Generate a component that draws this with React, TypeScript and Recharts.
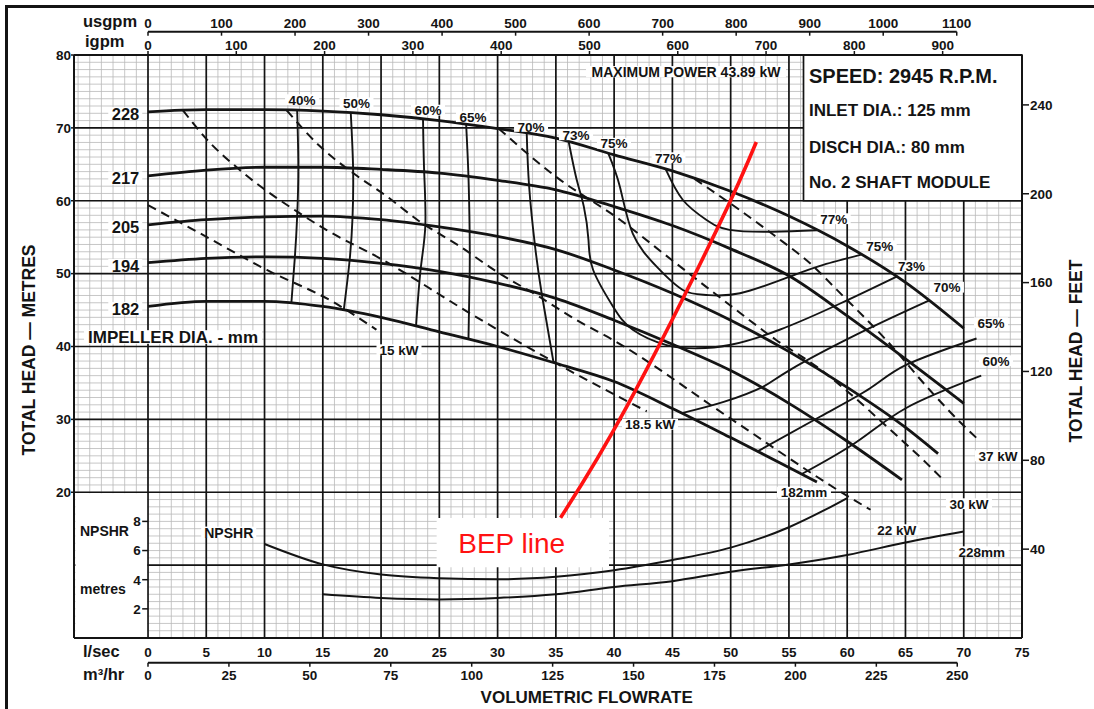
import React from 'react';
import {
  ComposedChart,
  Line,
  XAxis,
  YAxis,
  CartesianGrid,
  ReferenceLine,
  ReferenceArea,
  ReferenceDot,
} from 'recharts';

const INK = '#141414';
const FONT = "'Liberation Sans', Arial, Helvetica, sans-serif";

// flow axis (l/sec) and unit conversions
const Q_MIN = -6.35;
const Q_MAX = 75;
const USGPM_PER_LS = 15.8503;
const IGPM_PER_LS = 13.1982;
const M3H_PER_LS = 3.6;
const FT_PER_M = 3.28084;
const NPSHR_SCALE = 2; // 1 m of NPSHR takes 2 units of the head axis

// tick labels
const flowTicks = [0, 5, 10, 15, 20, 25, 30, 35, 40, 45, 50, 55, 60, 65, 70, 75];
const m3hTicks = [0, 25, 50, 75, 100, 125, 150, 175, 200, 225, 250];
const usgpmTicks = [0, 100, 200, 300, 400, 500, 600, 700, 800, 900, 1000, 1100];
const igpmTicks = [0, 100, 200, 300, 400, 500, 600, 700, 800, 900];
const headTicks = [20, 30, 40, 50, 60, 70, 80];
const feetTicks = [40, 80, 120, 160, 200, 240];
const npshrTicks = [2, 4, 6, 8];

// head / capacity per impeller diameter  [l/sec, metres]
const head228 = [[0, 72.2], [5, 72.5], [10, 72.5], [15, 72.3], [20, 71.8], [25, 71.0], [30, 69.9], [35, 68.6], [40, 66.3], [45, 64.1], [50, 61.3], [55, 57.9], [60, 53.8], [65, 48.8], [70, 42.5]];
const head217 = [[0, 63.4], [5, 64.2], [10, 64.6], [15, 64.6], [20, 64.3], [25, 63.8], [30, 62.8], [35, 61.5], [40, 59.2], [45, 56.6], [50, 53.4], [55, 49.7], [60, 44.2], [65, 38.3], [70, 32.2]];
const head205 = [[0, 56.7], [5, 57.4], [10, 57.8], [15, 57.9], [20, 57.4], [25, 56.4], [30, 55.1], [35, 53.3], [40, 50.5], [45, 47.3], [50, 43.6], [55, 39.3], [60, 34.4], [65, 28.9], [67.8, 25.3]];
const head194 = [[0, 51.5], [5, 52.1], [10, 52.3], [15, 52.1], [20, 51.4], [25, 50.3], [30, 48.7], [35, 46.6], [40, 43.6], [45, 40.3], [50, 36.7], [55, 32.2], [60, 27.0], [64.7, 21.7]];
const head182 = [[0, 45.5], [5, 46.2], [10, 46.2], [15, 45.5], [20, 44.0], [25, 42.0], [30, 40.0], [35, 37.7], [40, 35.2], [45, 31.5], [50, 27.5], [55, 23.4], [57.4, 21.4]];

// efficiency contours
const eff40 = [[12.8, 72.4], [12.9, 64.6], [12.8, 57.85], [12.6, 52.2], [12.3, 45.9]];
const eff50 = [[17.4, 72.05], [17.6, 64.45], [17.55, 57.65], [17.3, 51.8], [16.8, 45.0]];
const eff60 = [[23.6, 71.2], [23.7, 63.95], [23.8, 56.65], [23.4, 50.65], [23.0, 42.8]];
const eff65 = [[27.3, 70.5], [27.5, 63.3], [27.6, 55.75], [27.6, 49.5], [27.5, 41.0]];
const eff70 = [[32.5, 69.25], [32.7, 62.1], [33.2, 53.95], [33.8, 47.1], [34.8, 37.8]];
const eff73 = [[36.1, 68.1], [36.8, 62.8], [37.4, 59.2], [37.8, 54.6], [38.2, 50.5], [39.9, 45.5], [41.6, 42.3], [44.5, 40.2], [47.1, 39.75], [49.9, 40.2], [54.2, 42.3], [59.4, 45.9], [64.25, 49.6]];
const eff75 = [[39.5, 66.5], [40.5, 61.9], [41.6, 55.5], [43.65, 50.95], [45.9, 47.75], [47.9, 47.07], [50.8, 47.3], [55.1, 49.6], [57.95, 51.2], [61.2, 52.6]];
const eff77 = [[44.4, 64.4], [45.9, 60.1], [47.9, 57.4], [49.9, 56.0], [53.6, 55.75], [57.4, 55.95]];
const eff70r = [[45.9, 30.9], [49.4, 32.4], [52.8, 34.5], [55.1, 36.8], [61.0, 41.8], [67.0, 46.3]];
const eff65r = [[52.3, 25.6], [57.7, 30.4], [62.0, 34.3], [65.1, 37.5], [71.1, 41.1]];
const eff60r = [[56.1, 22.5], [60.8, 26.9], [65.1, 31.6], [71.5, 36.0]];

// power lines (dashed)
const kw15 = [[0, 59.4], [4.5, 55.5], [10.2, 50.5], [15.9, 46.1], [19.6, 42.3]];
const kw185 = [[3.0, 72.4], [5.0, 68.5], [7.9, 64.2], [12.8, 58.5], [15.3, 56.0], [19.9, 52.1], [28, 44.2], [35.6, 37.2], [42.8, 31.1]];
const kw22 = [[11.9, 72.4], [14.8, 67.4], [17.6, 63.8], [20.5, 60.6], [23.1, 57.4], [26.8, 53.7], [29.9, 50.3], [33.6, 46.8], [36.8, 43.6], [39.9, 40.9], [50, 30.1], [59.9, 19.6], [62.0, 17.6]];
const kw30 = [[30.1, 69.9], [35, 63.3], [40.5, 57.4], [45, 51.8], [50, 45.6], [53.9, 40.9], [57.4, 37.2], [60.2, 33.6], [63.4, 29.0], [66.8, 24.0], [68.3, 21.6]];
const kw37 = [[46.9, 63.0], [50.8, 58.7], [53.7, 55.3], [57.1, 51.0], [59.1, 47.8], [63.4, 40.8], [67.1, 34.0], [69.7, 29.6], [71.4, 27.0]];

// NPSHR, metres
const npshr182 = [[10, 6.45], [15, 5.05], [20, 4.35], [25, 4.1], [30, 4.03], [35, 4.2], [40, 4.65], [45, 5.35], [50, 6.2], [55, 7.6], [58, 8.75], [60, 9.6]];
const npshr228 = [[15, 3.0], [20, 2.75], [25, 2.65], [30, 2.75], [35, 3.0], [40, 3.5], [45, 3.9], [50, 4.55], [55, 5.05], [60, 5.7], [65, 6.55], [70, 7.3]];

// best efficiency point line
const bep = [[35.4, 16.5], [41.0, 31.5], [48.8, 56.0], [52.2, 68.06]];

const impellers = [head228, head217, head205, head194, head182];
const effCurves = [eff40, eff50, eff60, eff65, eff70, eff73, eff75, eff77, eff70r, eff65r, eff60r];
const powerLines = [kw15, kw185, kw22, kw30, kw37];

type Pt = { q: number; h: number };
const toPts = (rows: number[][], k = 1): Pt[] => rows.map(([q, h]) => ({ q, h: h * k }));

const minorQ = Array.from({ length: 81 }, (_, i) => i - 6);
const minorH = Array.from({ length: 79 }, (_, i) => i + 1);
const majorQ = flowTicks.filter((v) => v < Q_MAX);
const majorH = [10, 20, 30, 40, 50, 60, 70];

type Note = {
  t: string; q: number; h: number; fs: number;
  a?: 'start' | 'middle' | 'end'; w?: number; bg?: boolean; c?: string; fw?: number;
};

const notes: Note[] = [
  { t: '228', q: -0.75, h: 71.9, fs: 16.5, a: 'end', w: 28, bg: true },
  { t: '217', q: -0.75, h: 63.08, fs: 16.5, a: 'end', w: 28, bg: true },
  { t: '205', q: -0.75, h: 56.33, fs: 16.5, a: 'end', w: 28, bg: true },
  { t: '194', q: -0.75, h: 51.07, fs: 16.5, a: 'end', w: 28, bg: true },
  { t: '182', q: -0.75, h: 45.15, fs: 16.5, a: 'end', w: 28, bg: true },
  { t: 'IMPELLER DIA. - mm', q: 2.15, h: 41.26, fs: 17, w: 172, bg: true },
  { t: '40%', q: 13.22, h: 73.83, fs: 13.5, w: 28, bg: true },
  { t: '50%', q: 17.89, h: 73.4, fs: 13.5, w: 28, bg: true },
  { t: '60%', q: 24.03, h: 72.4, fs: 13.5, w: 28, bg: true },
  { t: '65%', q: 27.89, h: 71.5, fs: 13.5, w: 28, bg: true },
  { t: '70%', q: 32.87, h: 70.16, fs: 13.5, w: 28, bg: true },
  { t: '73%', q: 36.73, h: 69.02, fs: 13.5, w: 28, bg: true },
  { t: '75%', q: 39.99, h: 67.86, fs: 13.5, w: 28, bg: true },
  { t: '77%', q: 44.67, h: 65.87, fs: 13.5, w: 28, bg: true },
  { t: '77%', q: 58.84, h: 57.5, fs: 13.5, w: 28, bg: true },
  { t: '75%', q: 62.79, h: 53.79, fs: 13.5, w: 28, bg: true },
  { t: '73%', q: 65.52, h: 51.05, fs: 13.5, w: 28, bg: true },
  { t: '70%', q: 68.56, h: 48.1, fs: 13.5, w: 28, bg: true },
  { t: '65%', q: 72.34, h: 43.22, fs: 13.5, w: 28, bg: true },
  { t: '60%', q: 72.77, h: 38.01, fs: 13.5, w: 28, bg: true },
  { t: '15 kW', q: 21.54, h: 39.52, fs: 13.5, w: 39, bg: true },
  { t: '18.5 kW', q: 43.08, h: 29.3, fs: 13.5, w: 50, bg: true },
  { t: '22 kW', q: 64.25, h: 14.82, fs: 13.5, w: 40, bg: true },
  { t: '30 kW', q: 70.45, h: 18.39, fs: 13.5, w: 40, bg: true },
  { t: '37 kW', q: 72.94, h: 24.97, fs: 13.5, w: 40, bg: true },
  { t: '182mm', q: 56.29, h: 19.97, fs: 13.5, w: 48, bg: true },
  { t: '228mm', q: 71.54, h: 11.8, fs: 13.5, w: 48, bg: true },
  { t: 'NPSHR', q: 6.93, h: 14.48, fs: 14, w: 49, bg: true },
  { t: 'MAXIMUM POWER 43.89 kW', q: 46.17, h: 77.67, fs: 14, w: 194, bg: true },
  { t: 'NPSHR', q: -5.84, h: 14.68, fs: 14, a: 'start' },
  { t: 'metres', q: -5.84, h: 6.72, fs: 14, a: 'start' },
  { t: 'SPEED: 2945 R.P.M.', q: 56.72, h: 77.12, fs: 20, a: 'start' },
  { t: 'INLET DIA.: 125 mm', q: 56.72, h: 72.45, fs: 17, a: 'start' },
  { t: 'DISCH DIA.: 80 mm', q: 56.72, h: 67.44, fs: 17, a: 'start' },
  { t: 'No. 2 SHAFT MODULE', q: 56.72, h: 62.53, fs: 17, a: 'start' },
  { t: 'BEP line', q: 31.21, h: 13.04, fs: 28, fw: 400, c: '#ff1212' },
  ...npshrTicks.map((n) => ({ t: String(n), q: -0.62, h: n * NPSHR_SCALE, fs: 13.5, a: 'end' as const })),
];

const NoteLabel = (props: any) => {
  const n: Note = props.note;
  const vb = props.viewBox || {};
  const x = (vb.x ?? 0) + (vb.width ?? 0) / 2;
  const y = (vb.y ?? 0) + (vb.height ?? 0) / 2;
  const anchor = n.a ?? 'middle';
  const w = n.w ?? n.t.length * n.fs * 0.6;
  const left = anchor === 'middle' ? x - w / 2 : anchor === 'end' ? x - w : x;
  return (
    <g>
      {n.bg && <rect x={left - 3} y={y - n.fs * 0.42} width={w + 6} height={n.fs * 0.8} fill="#fff" />}
      <text x={x} y={y + n.fs * 0.36} textAnchor={anchor} fontSize={n.fs} fontWeight={n.fw ?? 700} fill={n.c ?? INK}>
        {n.t}
      </text>
    </g>
  );
};

type AxisText = { text: string; dx: number; dy: number; fs: number; anchor?: 'start' | 'middle' | 'end'; rot?: boolean };

const AxisTexts = (props: any) => {
  const vb = props.viewBox || { x: 0, y: 0 };
  const items: AxisText[] = props.items;
  return (
    <g>
      {items.map((it, i) => {
        const x = vb.x + it.dx;
        const y = vb.y + it.dy;
        return (
          <text key={i} x={x} y={y} textAnchor={it.anchor ?? 'start'} fontSize={it.fs} fontWeight={700} fill={INK}
            transform={it.rot ? `rotate(-90 ${x} ${y})` : undefined}>
            {it.text}
          </text>
        );
      })}
    </g>
  );
};

const UsTick = (p: any) => (
  <g>
    <line x1={p.x} x2={p.x} y1={p.y} y2={p.y + 4} stroke={INK} strokeWidth={1.5} />
    <text x={p.x} y={p.y - 3.5} textAnchor="middle" fontSize={13.5} fontWeight={700} fill={INK}>{p.payload.value}</text>
  </g>
);

const IgTick = (p: any) => (
  <g>
    <line x1={p.x} x2={p.x} y1={p.y} y2={p.y - 4} stroke={INK} strokeWidth={1.5} />
    <text x={p.x} y={p.y - 5.5} textAnchor="middle" fontSize={13.5} fontWeight={700} fill={INK}>{p.payload.value}</text>
  </g>
);

const FlowTick = (p: any) => (
  <text x={p.x} y={p.y + 18.5} textAnchor="middle" fontSize={13.5} fontWeight={700} fill={INK}>{p.payload.value}</text>
);

const M3Tick = (p: any) => (
  <g>
    <line x1={p.x} x2={p.x} y1={p.y} y2={p.y + 4} stroke={INK} strokeWidth={1.5} />
    <text x={p.x} y={p.y + 17.3} textAnchor="middle" fontSize={13.5} fontWeight={700} fill={INK}>{p.payload.value}</text>
  </g>
);

// axis ids sort alphabetically when stacked: f1 sits on the plot, f2 below it; t1 on the plot, t2 above it
const lineProps = { dataKey: 'h', xAxisId: 'f1', yAxisId: 'm', dot: false, activeDot: false, isAnimationActive: false } as const;
const ax = { xAxisId: 'f1', yAxisId: 'm' } as const;

export default function App() {
  const usLineH = 83.2;
  const m3LineH = -3.39;
  return (
    <div style={{ position: 'absolute', left: 0, top: 0, width: 1094, height: 709, overflow: 'hidden', background: '#fff', fontFamily: FONT }}>
      <div style={{ position: 'absolute', left: 5, top: 5, width: 1200, height: 800, border: `3px solid ${INK}` }} />
      <div style={{ position: 'absolute', left: 0, top: 0 }}>
        <ComposedChart width={1094} height={709} margin={{ top: 6.7, right: 2, bottom: 6.3, left: 8 }}>
          <CartesianGrid {...ax} verticalValues={minorQ} horizontalValues={minorH} stroke="#b9b9b9" strokeWidth={0.8} />
          <CartesianGrid {...ax} verticalValues={majorQ} horizontalValues={majorH} stroke={INK} strokeWidth={1.7} />

          <XAxis xAxisId="f1" dataKey="q" type="number" domain={[Q_MIN, Q_MAX]} ticks={flowTicks} allowDataOverflow interval={0}
            height={24.7} axisLine={{ stroke: INK, strokeWidth: 2 }} tickLine={false} tickSize={0} tickMargin={0}
            tick={(p: any) => <FlowTick {...p} />}
            label={<AxisTexts items={[{ text: 'l/sec', dx: 9, dy: 18.5, fs: 16.5 }]} />} />
          <XAxis xAxisId="f2" dataKey="q" type="number" domain={[Q_MIN * M3H_PER_LS, Q_MAX * M3H_PER_LS]} ticks={m3hTicks} allowDataOverflow interval={0}
            height={40} axisLine={false} tickLine={false} tickSize={0} tickMargin={0}
            tick={(p: any) => <M3Tick {...p} />}
            label={<AxisTexts items={[
              { text: 'm³/hr', dx: 9, dy: 17.3, fs: 16.5 },
              { text: 'VOLUMETRIC FLOWRATE', dx: 512.7, dy: 40.5, fs: 17, anchor: 'middle' },
            ]} />} />
          <XAxis xAxisId="t1" dataKey="q" orientation="top" type="number" domain={[Q_MIN * IGPM_PER_LS, Q_MAX * IGPM_PER_LS]} ticks={igpmTicks}
            allowDataOverflow interval={0} height={23.3} axisLine={{ stroke: INK, strokeWidth: 2 }} tickLine={false} tickSize={0} tickMargin={0}
            tick={(p: any) => <IgTick {...p} />}
            label={<AxisTexts items={[{ text: 'igpm', dx: 11, dy: 15, fs: 16.5 }]} />} />
          <XAxis xAxisId="t2" dataKey="q" orientation="top" type="number" domain={[Q_MIN * USGPM_PER_LS, Q_MAX * USGPM_PER_LS]} ticks={usgpmTicks}
            allowDataOverflow interval={0} height={25} axisLine={false} tickLine={false} tickSize={0} tickMargin={0}
            tick={(p: any) => <UsTick {...p} />}
            label={<AxisTexts items={[{ text: 'usgpm', dx: 9, dy: 20, fs: 16.5 }]} />} />

          <YAxis yAxisId="m" type="number" domain={[0, 80]} ticks={headTicks} allowDataOverflow interval={0} width={66}
            axisLine={{ stroke: INK, strokeWidth: 2 }} tickLine={{ stroke: INK, strokeWidth: 1.5 }} tickSize={3} tickMargin={0}
            tick={{ fill: INK, fontSize: 13.5, fontWeight: 700 }}
            label={<AxisTexts items={[{ text: 'TOTAL HEAD — METRES', dx: 27.3, dy: 295, fs: 17.5, anchor: 'middle', rot: true }]} />} />
          <YAxis yAxisId="ft" orientation="right" type="number" domain={[0, 80 * FT_PER_M]} ticks={feetTicks} allowDataOverflow interval={0} width={70}
            axisLine={{ stroke: INK, strokeWidth: 2 }} tickLine={{ stroke: INK, strokeWidth: 1.5 }} tickSize={7} tickMargin={1}
            tick={{ fill: INK, fontSize: 13.5, fontWeight: 700 }}
            label={<AxisTexts items={[{ text: 'TOTAL HEAD — FEET', dx: 59.8, dy: 296, fs: 17.5, anchor: 'middle', rot: true }]} />} />

          {/* blank panel left of the NPSHR scale, spec box */}
          <ReferenceArea {...ax} x1={Q_MIN + 0.12} x2={-0.08} y1={0.15} y2={19.85} fill="#fff" fillOpacity={1} stroke="none" />
          <ReferenceArea {...ax} x1={56.25} x2={Q_MAX} y1={60} y2={80} fill="#fff" fillOpacity={1} stroke={INK} strokeWidth={1.7} />

          {effCurves.map((c, i) => (
            <Line key={'eff' + i} {...lineProps} data={toPts(c)} type="natural" stroke={INK} strokeWidth={1.9} />
          ))}
          {powerLines.map((c, i) => (
            <Line key={'kw' + i} {...lineProps} data={toPts(c)} type="monotone" stroke={INK} strokeWidth={2} strokeDasharray="9 6" />
          ))}
          {impellers.map((c, i) => (
            <Line key={'imp' + i} {...lineProps} data={toPts(c)} type="monotone" stroke={INK} strokeWidth={2.8} />
          ))}
          <Line {...lineProps} data={toPts(npshr182, NPSHR_SCALE)} type="monotone" stroke={INK} strokeWidth={2} />
          <Line {...lineProps} data={toPts(npshr228, NPSHR_SCALE)} type="monotone" stroke={INK} strokeWidth={2} />
          <Line {...lineProps} data={toPts(bep)} type="natural" stroke="#ff1212" strokeWidth={3.6} />

          <ReferenceArea {...ax} x1={24.77} x2={39.56} y1={9.7} y2={16.47} fill="#fff" fillOpacity={1} stroke="none" />

          <ReferenceLine {...ax} ifOverflow="visible" stroke={INK} strokeWidth={2}
            segment={[{ x: 0, y: usLineH }, { x: usgpmTicks[usgpmTicks.length - 1] / USGPM_PER_LS, y: usLineH }]} />
          <ReferenceLine {...ax} ifOverflow="visible" stroke={INK} strokeWidth={2}
            segment={[{ x: 0, y: m3LineH }, { x: m3hTicks[m3hTicks.length - 1] / M3H_PER_LS, y: m3LineH }]} />
          {npshrTicks.map((n) => (
            <ReferenceLine key={'nt' + n} {...ax} ifOverflow="visible" stroke={INK} strokeWidth={1.5}
              segment={[{ x: -0.5, y: n * NPSHR_SCALE }, { x: 0, y: n * NPSHR_SCALE }]} />
          ))}

          {notes.map((n, i) => (
            <ReferenceDot key={'note' + i} {...ax} x={n.q} y={n.h} r={0} ifOverflow="visible"
              fill="none" stroke="none" label={<NoteLabel note={n} />} />
          ))}
        </ComposedChart>
      </div>
    </div>
  );
}
